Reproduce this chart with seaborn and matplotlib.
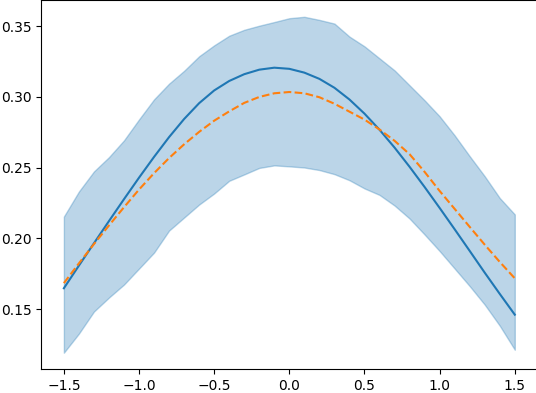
import numpy as np
import pandas as pd
import matplotlib
matplotlib.use("Agg")
import matplotlib.pyplot as plt
import seaborn as sns

# x grid (values every 0.1)
x = [-1.5, -1.4, -1.3, -1.2, -1.1, -1.0, -0.9, -0.8, -0.7, -0.6, -0.5,
     -0.4, -0.3, -0.2, -0.1, 0.0, 0.1, 0.2, 0.3, 0.4, 0.5,
     0.6, 0.7, 0.8, 0.9, 1.0, 1.1, 1.2, 1.3, 1.4, 1.5]

# solid blue curve
mean_line = [0.1647, 0.1807, 0.1965, 0.2122, 0.2277, 0.2429, 0.2576, 0.2716, 0.2844, 0.2956, 0.3046,
             0.3113, 0.3161, 0.3193, 0.3207, 0.3199, 0.3172, 0.3128, 0.3065, 0.2982, 0.2882,
             0.2768, 0.2642, 0.2506, 0.2363, 0.2215, 0.2064, 0.1911, 0.1757, 0.1607, 0.1460]

# dashed orange curve
ref_line = [0.1683, 0.1823, 0.1959, 0.2091, 0.2220, 0.2345, 0.2461, 0.2568, 0.2665, 0.2753, 0.2832,
            0.2898, 0.2958, 0.3000, 0.3026, 0.3035, 0.3026, 0.2998, 0.2952, 0.2896, 0.2840,
            0.2770, 0.2690, 0.2595, 0.2470, 0.2335, 0.2208, 0.2081, 0.1955, 0.1833, 0.1717]

# shaded band
band_upper = [0.2154, 0.2331, 0.2473, 0.2574, 0.2693, 0.2841, 0.2983, 0.3094, 0.3185, 0.3288, 0.3365,
              0.3433, 0.3475, 0.3504, 0.3530, 0.3557, 0.3567, 0.3545, 0.3519, 0.3427, 0.3358,
              0.3273, 0.3188, 0.3082, 0.2976, 0.2863, 0.2728, 0.2581, 0.2439, 0.2285, 0.2169]
band_lower = [0.1191, 0.1326, 0.1482, 0.1581, 0.1673, 0.1786, 0.1899, 0.2055, 0.2147, 0.2239, 0.2317,
              0.2407, 0.2452, 0.2498, 0.2516, 0.2509, 0.2501, 0.2483, 0.2454, 0.2411, 0.2353,
              0.2307, 0.2232, 0.2140, 0.2027, 0.1910, 0.1786, 0.1662, 0.1531, 0.1382, 0.1212]

df = pd.DataFrame({"x": x, "mean": mean_line, "ref": ref_line,
                   "lo": band_lower, "hi": band_upper})

fig = plt.figure(figsize=(5.36, 3.93), dpi=100)
ax = fig.add_axes([0.0771, 0.0598, 0.9254, 0.9402])

ax.fill_between(df["x"], df["lo"], df["hi"], color="C0", alpha=0.3)
sns.lineplot(data=df, x="x", y="mean", ax=ax, color="C0", linewidth=1.5)
sns.lineplot(data=df, x="x", y="ref", ax=ax, color="C1", linewidth=1.5, linestyle="--")

ax.set_xlabel("")
ax.set_ylabel("")
ax.set_xticks([-1.5, -1.0, -0.5, 0.0, 0.5, 1.0, 1.5])
ax.set_yticks([0.15, 0.20, 0.25, 0.30, 0.35])
ax.set_xlim(-1.65, 1.65)

plt.savefig("out.png", dpi=100)
plt.close()
